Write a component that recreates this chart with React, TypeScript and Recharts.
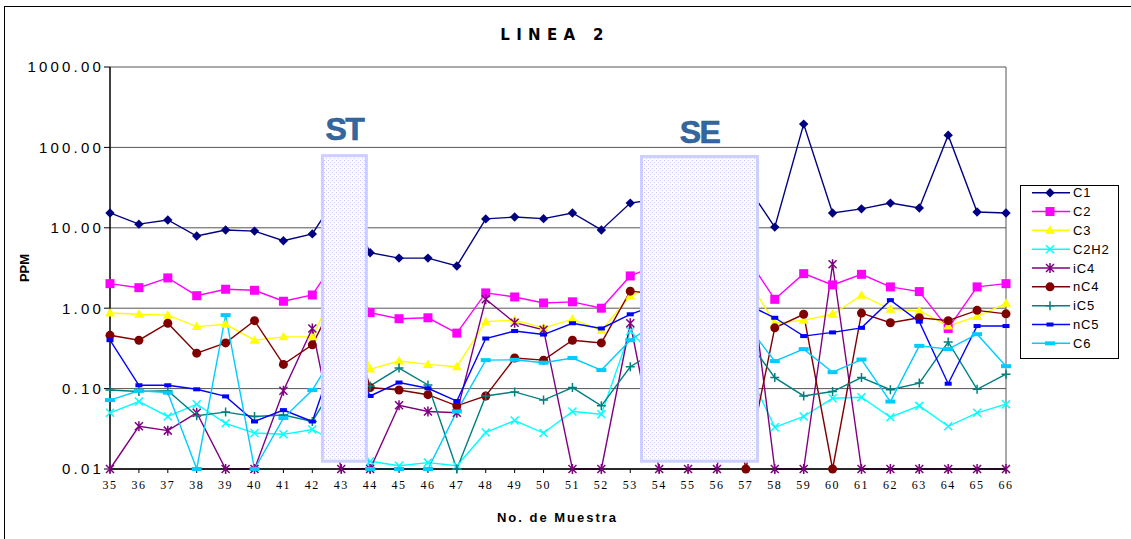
import {
  LineChart,
  Line,
  XAxis,
  YAxis,
  CartesianGrid,
  ReferenceArea,
  ReferenceLine,
} from "recharts";

// No. de muestra (eje X)
const muestras = [
  35, 36, 37, 38, 39, 40, 41, 42, 43, 44, 45, 46, 47, 48, 49, 50,
  51, 52, 53, 54, 55, 56, 57, 58, 59, 60, 61, 62, 63, 64, 65, 66,
];

// PPM por compuesto (lecturas aproximadas del grafico)
const c1 = [
  15.3, 11.1, 12.5, 7.9, 9.4, 9.1, 6.9, 8.4, 30, 4.9, 4.2, 4.2, 3.35, 12.9, 13.6, 13.0,
  15.3, 9.4, 20.3, 23, 25, 28, 35, 10.2, 195, 15.3, 17.2, 20.3, 17.6, 142, 15.7, 15.3,
];
const c2 = [
  2.02, 1.8, 2.38, 1.43, 1.72, 1.67, 1.22, 1.46, 5.0, 0.88, 0.74, 0.76, 0.49, 1.55, 1.38, 1.16,
  1.2, 1.0, 2.52, 3.5, 3.2, 3.4, 4.5, 1.29, 2.69, 1.95, 2.64, 1.84, 1.61, 0.56, 1.84, 2.02,
];
const c3 = [
  0.87, 0.84, 0.82, 0.59, 0.63, 0.4, 0.44, 0.44, 2.5, 0.175, 0.22, 0.2, 0.187, 0.68, 0.71, 0.57,
  0.73, 0.53, 1.42, 2.0, 1.8, 1.9, 2.5, 0.65, 0.71, 0.84, 1.45, 0.97, 0.93, 0.6, 0.79, 1.15,
];
const c2h2 = [
  0.05, 0.069, 0.045, 0.064, 0.037, 0.028, 0.027, 0.031, 0.02, 0.0125, 0.011, 0.012, 0.011, 0.0285, 0.04, 0.028,
  0.052, 0.048, 0.52, 0.21, 0.15, 0.17, 0.19, 0.033, 0.045, 0.076, 0.078, 0.044, 0.061, 0.034, 0.05, 0.064,
];
const ic4 = [
  0.01, 0.034, 0.03, 0.05, 0.01, 0.01, 0.094, 0.56, 0.01, 0.01, 0.062, 0.052, 0.05, 1.29, 0.66, 0.54,
  0.01, 0.01, 0.65, 0.01, 0.01, 0.01, 7, 0.01, 0.01, 3.52, 0.01, 0.01, 0.01, 0.01, 0.01, 0.01,
];
const nc4 = [
  0.46, 0.4, 0.65, 0.276, 0.37, 0.7, 0.2, 0.35, 1.8, 0.103, 0.096, 0.084, 0.061, 0.081, 0.24, 0.226,
  0.4, 0.37, 1.63, 1.5, 1.2, 0.8, 0.01, 0.57, 0.84, 0.01, 0.87, 0.66, 0.76, 0.7, 0.94, 0.85,
];
const ic5 = [
  0.096, 0.092, 0.094, 0.046, 0.051, 0.045, 0.047, 0.039, 0.15, 0.108, 0.18, 0.111, 0.01, 0.081, 0.091, 0.072,
  0.103, 0.061, 0.187, 0.31, 0.35, 0.4, 0.43, 0.137, 0.081, 0.092, 0.137, 0.097, 0.117, 0.38, 0.098, 0.151,
];
const nc5 = [
  0.4, 0.11, 0.11, 0.098, 0.08, 0.039, 0.054, 0.039, 0.44, 0.081, 0.119, 0.101, 0.07, 0.42, 0.52, 0.47,
  0.65, 0.56, 0.84, 1.13, 1.1, 1.1, 1.13, 0.76, 0.45, 0.5, 0.57, 1.26, 0.68, 0.115, 0.6, 0.6,
];
const c6 = [
  0.072, 0.094, 0.089, 0.01, 0.82, 0.01, 0.043, 0.096, 0.37, 0.01, 0.01, 0.01, 0.052, 0.226, 0.228, 0.21,
  0.24, 0.17, 0.4, 0.7, 0.6, 0.6, 0.64, 0.22, 0.31, 0.16, 0.23, 0.069, 0.34, 0.31, 0.475, 0.19,
];

const yTicks = [0.01, 0.1, 1, 10, 100, 1000];

type Shape =
  | "diamond"
  | "square"
  | "triangle"
  | "x"
  | "star"
  | "circle"
  | "plus"
  | "dash"
  | "wideDash";

interface SeriesDef {
  key: string;
  color: string;
  shape: Shape;
  values: number[];
}

const series: SeriesDef[] = [
  { key: "C1", color: "#000080", shape: "diamond", values: c1 },
  { key: "C2", color: "#ff00ff", shape: "square", values: c2 },
  { key: "C3", color: "#ffff00", shape: "triangle", values: c3 },
  { key: "C2H2", color: "#00ffff", shape: "x", values: c2h2 },
  { key: "iC4", color: "#800080", shape: "star", values: ic4 },
  { key: "nC4", color: "#800000", shape: "circle", values: nc4 },
  { key: "iC5", color: "#008080", shape: "plus", values: ic5 },
  { key: "nC5", color: "#0000ff", shape: "dash", values: nc5 },
  { key: "C6", color: "#00ccff", shape: "wideDash", values: c6 },
];

// periodos sin muestreo (ST / SE)
const bands = [
  { label: "ST", x1: 42.35, x2: 43.87, y1: 0.0125, y2: 79, gap: 16 },
  { label: "SE", x1: 53.39, x2: 57.4, y1: 0.0125, y2: 77, gap: 14 },
];

const data = muestras.map((m, i) => {
  const row: Record<string, number> = { muestra: m };
  series.forEach((s) => {
    row[s.key] = s.values[i];
  });
  return row;
});

function Marker({
  shape,
  cx,
  cy,
  color,
}: {
  shape: Shape;
  cx?: number;
  cy?: number;
  color: string;
}) {
  if (cx == null || cy == null) return null;
  switch (shape) {
    case "diamond":
      return (
        <path
          d={`M${cx} ${cy - 4.7}L${cx + 4.7} ${cy}L${cx} ${cy + 4.7}L${cx - 4.7} ${cy}Z`}
          fill={color}
        />
      );
    case "square":
      return <rect x={cx - 4.5} y={cy - 4.5} width={9} height={9} fill={color} />;
    case "triangle":
      return (
        <path
          d={`M${cx} ${cy - 5}L${cx + 5} ${cy + 3.5}L${cx - 5} ${cy + 3.5}Z`}
          fill={color}
        />
      );
    case "x":
      return (
        <path
          d={`M${cx - 4} ${cy - 4}L${cx + 4} ${cy + 4}M${cx + 4} ${cy - 4}L${cx - 4} ${cy + 4}`}
          stroke={color}
          strokeWidth={1.5}
        />
      );
    case "star":
      return (
        <path
          d={`M${cx - 4} ${cy - 4}L${cx + 4} ${cy + 4}M${cx + 4} ${cy - 4}L${cx - 4} ${cy + 4}M${cx} ${cy - 5}L${cx} ${cy + 5}`}
          stroke={color}
          strokeWidth={1.5}
        />
      );
    case "circle":
      return <circle cx={cx} cy={cy} r={4.5} fill={color} />;
    case "plus":
      return (
        <path
          d={`M${cx - 4.5} ${cy}L${cx + 4.5} ${cy}M${cx} ${cy - 4.5}L${cx} ${cy + 4.5}`}
          stroke={color}
          strokeWidth={1.5}
        />
      );
    case "dash":
      return <rect x={cx - 3.5} y={cy - 2} width={7} height={4} fill={color} />;
    case "wideDash":
      return <rect x={cx - 5} y={cy - 2} width={10} height={4} fill={color} />;
  }
  return null;
}

function Band(props: any) {
  const { x, y, width, height, label, gap, id } = props;
  return (
    <g>
      <defs>
        <pattern id={id} width={4} height={4} patternUnits="userSpaceOnUse">
          <rect width={4} height={4} fill="#fafaff" />
          <rect x={0} y={0} width={1} height={1} fill="#c8c8f4" />
          <rect x={2} y={2} width={1} height={1} fill="#d0d0f6" />
        </pattern>
      </defs>
      <rect
        x={x}
        y={y}
        width={width}
        height={height}
        fill={`url(#${id})`}
        stroke="#cccfff"
        strokeWidth={3}
      />
      <text
        x={x + width / 2}
        y={y - gap}
        textAnchor="middle"
        fill="#33679f"
        stroke="#2a5a90"
        strokeWidth={0.6}
        fontFamily="'Liberation Sans', Arial, sans-serif"
        fontWeight="bold"
        fontSize={32}
        letterSpacing={-1.5}
      >
        {label}
      </text>
    </g>
  );
}

function LegendBox() {
  return (
    <svg
      width={100}
      height={175}
      style={{ position: "absolute", left: 1020, top: 185 }}
    >
      <rect x={0.5} y={0.5} width={98} height={173} fill="#fff" stroke="#000" />
      {series.map((s, i) => {
        const cy = 7.7 + i * 18.83;
        return (
          <g key={s.key}>
            <line x1={12} x2={50} y1={cy} y2={cy} stroke={s.color} strokeWidth={1.5} />
            <Marker shape={s.shape} cx={30} cy={cy} color={s.color} />
            <text
              x={53}
              y={cy + 4.5}
              fontFamily="'Liberation Sans', Arial, sans-serif"
              fontSize={13}
              letterSpacing={0.8}
              fill="#000"
            >
              {s.key}
            </text>
          </g>
        );
      })}
    </svg>
  );
}

export default function App() {
  return (
    <div
      style={{
        position: "relative",
        width: 1131,
        height: 539,
        overflow: "hidden",
        background: "#fff",
        fontFamily: "'Liberation Sans', Arial, sans-serif",
      }}
    >
      <style>{"body{margin:0;}"}</style>
      <div
        style={{
          position: "absolute",
          left: 4,
          top: 6,
          width: 1200,
          height: 600,
          border: "1px solid #000",
        }}
      />
      <div
        style={{
          position: "absolute",
          left: 0,
          top: 28,
          width: 1110,
          textAlign: "center",
          fontFamily: "'DejaVu Sans', sans-serif",
          fontWeight: 900,
          fontSize: 15,
          letterSpacing: 6.3,
          lineHeight: "15px",
        }}
      >
        LINEA 2
      </div>
      <div style={{ position: "absolute", left: 0, top: 0 }}>
        <LineChart
          width={1131}
          height={539}
          data={data}
          margin={{ top: 67, right: 125, bottom: 40, left: 10 }}
        >
          <CartesianGrid vertical={false} stroke="#555" strokeWidth={1} />
          <XAxis
            dataKey="muestra"
            type="number"
            domain={[35, 66]}
            ticks={muestras}
            interval={0}
            height={30}
            axisLine={{ stroke: "#000", strokeWidth: 1.5 }}
            tickLine={{ stroke: "#000" }}
            tickSize={4}
            tickMargin={7}
            tick={{
              fill: "#000",
              fontSize: 12,
              fontFamily: "'Liberation Serif', 'Times New Roman', serif",
              letterSpacing: 1.5,
            }}
          />
          <YAxis
            scale="log"
            domain={[0.01, 1000]}
            ticks={yTicks}
            width={100}
            axisLine={{ stroke: "#000", strokeWidth: 1.5 }}
            tickLine={{ stroke: "#000" }}
            tickSize={6}
            tickMargin={0}
            tickFormatter={(v: number) => v.toFixed(2)}
            tick={{
              fill: "#000",
              fontSize: 15,
              fontFamily: "'Liberation Sans', Arial, sans-serif",
              letterSpacing: 3.2,
            }}
          />
          <ReferenceLine x={66} stroke="#555" />
          {series.map((s) => (
            <Line
              key={s.key}
              type="linear"
              dataKey={s.key}
              stroke={s.color}
              strokeWidth={1.4}
              isAnimationActive={false}
              activeDot={false}
              dot={(p: any) => (
                <Marker
                  key={`${s.key}-${p.index}`}
                  shape={s.shape}
                  cx={p.cx}
                  cy={p.cy}
                  color={s.color}
                />
              )}
            />
          ))}
          {bands.map((b) => (
            <ReferenceArea
              key={b.label}
              x1={b.x1}
              x2={b.x2}
              y1={b.y1}
              y2={b.y2}
              ifOverflow="visible"
              zIndex={1000}
              shape={(p: any) => (
                <Band {...p} label={b.label} gap={b.gap} id={`dots-${b.label}`} />
              )}
            />
          ))}
        </LineChart>
      </div>
      <div
        style={{
          position: "absolute",
          left: 0,
          top: 511,
          width: 1115,
          textAlign: "center",
          fontWeight: "bold",
          fontSize: 13,
          letterSpacing: 2,
          lineHeight: "14px",
        }}
      >
        No. de Muestra
      </div>
      <div
        style={{
          position: "absolute",
          left: 24.5,
          top: 268,
          transform: "translate(-50%, -50%) rotate(-90deg)",
          fontWeight: "bold",
          fontSize: 13,
          lineHeight: "14px",
          whiteSpace: "nowrap",
        }}
      >
        PPM
      </div>
      <LegendBox />
    </div>
  );
}
